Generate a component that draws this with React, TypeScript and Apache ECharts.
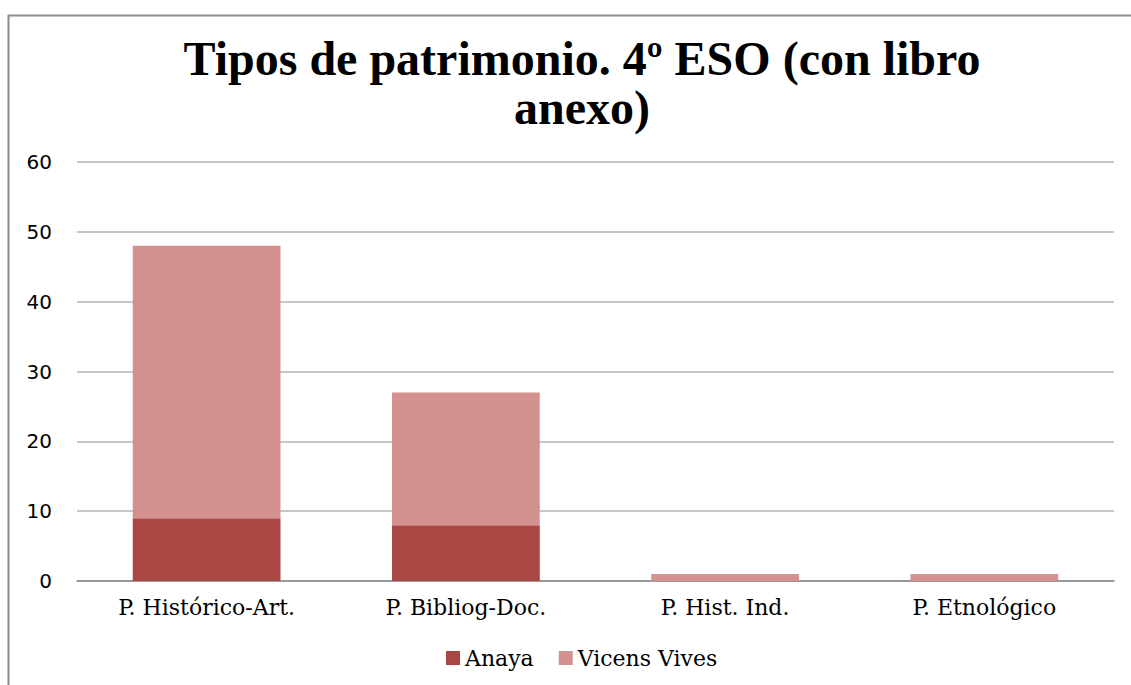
import React, { useEffect, useRef } from "react";
import * as echarts from "echarts";

const categories = ["P. Histórico-Art.", "P. Bibliog-Doc.", "P. Hist. Ind.", "P. Etnológico"];
const anaya = [9, 8, 0, 0];
const vicensVives = [39, 19, 1, 1];
const seriesNames = ["Anaya", "Vicens Vives"];
const titleText = "Tipos de patrimonio. 4º ESO (con libro\nanexo)";

const TITLE_FONT = "Liberation Serif";
const SERIF = "DejaVu Serif";
const SANS = "DejaVu Sans";

export default function App() {
  const ref = useRef<HTMLDivElement>(null);
  useEffect(() => {
    if (!ref.current) return;
    const chart = echarts.init(ref.current, null, { renderer: "svg" });
    chart.setOption({
      animation: false,
      backgroundColor: "#ffffff",
      title: {
        text: titleText,
        left: 577,
        textAlign: "center",
        top: 29,
        textStyle: {
          fontFamily: TITLE_FONT,
          fontWeight: "bold",
          fontSize: 48,
          lineHeight: 49,
          color: "#000000",
        },
      },
      graphic: [
        {
          type: "rect",
          shape: { x: 8.5, y: 15.5, width: 1140, height: 700 },
          style: { fill: "none", stroke: "#8c8c8c", lineWidth: 2 },
          silent: true,
        },
      ],
      legend: {
        data: seriesNames,
        bottom: 11,
        left: 441,
        itemWidth: 14,
        itemHeight: 14,
        itemGap: 25,
        icon: "rect",
        textStyle: {
          fontFamily: SERIF,
          fontSize: 22,
          color: "#000000",
        },
      },
      grid: { left: 77, right: 17, top: 162, bottom: 104 },
      xAxis: {
        type: "category",
        data: categories,
        axisTick: { show: false },
        axisLine: { lineStyle: { color: "#888888", width: 1.5 } },
        axisLabel: {
          margin: 15,
          fontFamily: SERIF,
          fontSize: 22,
          color: "#000000",
        },
      },
      yAxis: {
        type: "value",
        min: 0,
        max: 60,
        interval: 10,
        axisLine: { show: false },
        axisTick: { show: false },
        splitLine: { lineStyle: { color: "#b5b5b5", width: 1.5 } },
        axisLabel: {
          margin: 25,
          fontFamily: SANS,
          fontSize: 20,
          color: "#000000",
        },
      },
      series: [
        {
          name: seriesNames[0],
          type: "bar",
          stack: "total",
          data: anaya,
          barWidth: "57%",
          itemStyle: { color: "#a84744" },
        },
        {
          name: seriesNames[1],
          type: "bar",
          stack: "total",
          data: vicensVives,
          barWidth: "57%",
          itemStyle: { color: "#d39290" },
        },
      ],
    });
    return () => chart.dispose();
  }, []);
  return (
    <div
      ref={ref}
      style={{ position: "absolute", left: 0, top: 0, width: 1131, height: 685 }}
    />
  );
}
